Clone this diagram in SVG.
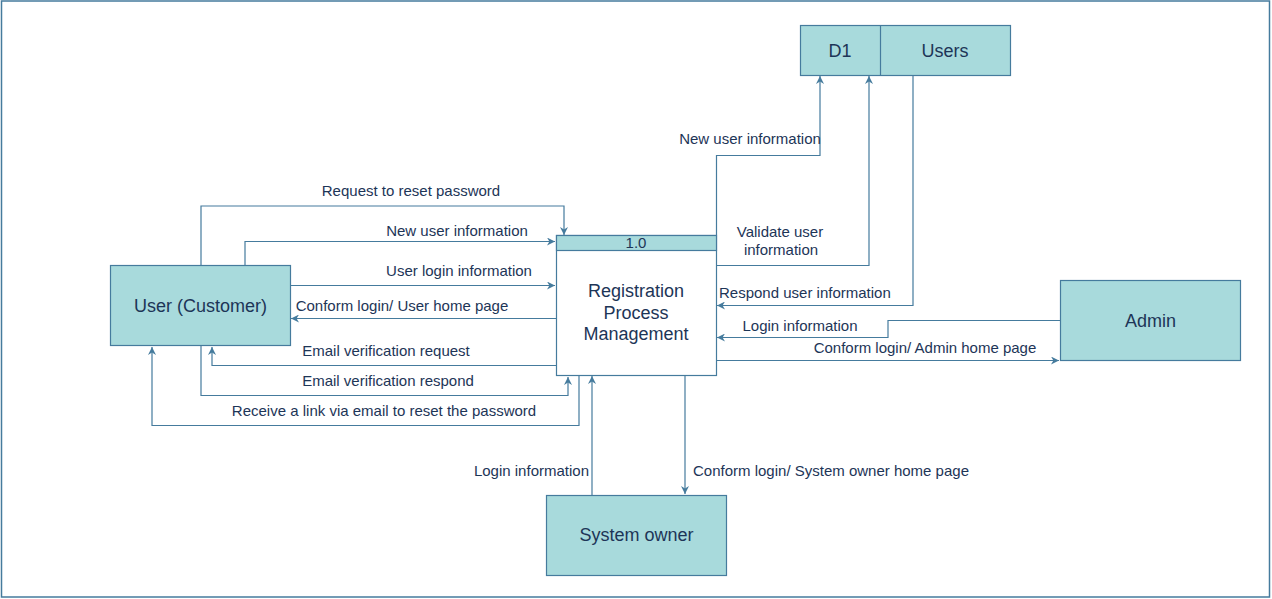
<svg xmlns="http://www.w3.org/2000/svg" width="1272" height="599" viewBox="0 0 1272 599">
<style>
.box{fill:#A8DADC;stroke:#457B9D;stroke-width:1.2}
.proc{fill:#FFFFFF;stroke:#457B9D;stroke-width:1.2}
.node{font-family:"Liberation Sans",Arial,sans-serif;font-size:18px;fill:#1D3557;text-anchor:middle}
.lbl{font-family:"Liberation Sans",Arial,sans-serif;font-size:15px;fill:#1D3557}
.c{text-anchor:middle}
.e{text-anchor:end}
.edge{fill:none;stroke:#457B9D;stroke-width:1.2;marker-end:url(#arr)}
</style>
<defs>
<marker id="arr" viewBox="0 0 10 10" refX="10" refY="5" markerWidth="8" markerHeight="8" markerUnits="userSpaceOnUse" orient="auto">
<path d="M0,0 L10,5 L0,10 L3,5 z" fill="#457B9D"/>
</marker>
</defs>
<rect x="0" y="0" width="1272" height="599" fill="#FFFFFF"/>
<rect x="1.5" y="1" width="1268" height="596" fill="none" stroke="#457B9D" stroke-width="1.5"/>

<g id="connectors">
<polyline class="edge" points="201,265 201,206 564,206 564,235"/>
<polyline class="edge" points="245,265 245,241.5 555,241.5"/>
<polyline class="edge" points="291,285.5 555,285.5"/>
<polyline class="edge" points="556,318.5 291,318.5"/>
<polyline class="edge" points="557,365.5 212,365.5 212,347"/>
<polyline class="edge" points="201,345 201,395.5 568,395.5 568,377"/>
<polyline class="edge" points="579,375 579,425.5 152,425.5 152,347"/>
<polyline class="edge" points="592,495 592,376"/>
<polyline class="edge" points="685,375 685,494"/>
<polyline class="edge" points="716.5,235 716.5,155.5 820,155.5 820,76"/>
<polyline class="edge" points="716.5,265.5 869,265.5 869,76"/>
<polyline class="edge" points="913,75 913,305.5 717,305.5"/>
<polyline class="edge" points="1060,320.5 888,320.5 888,337.5 717,337.5"/>
<polyline class="edge" points="716.5,360.5 1059,360.5"/>

<text class="lbl c" x="411" y="196">Request to reset password</text>
<text class="lbl c" x="457" y="236">New user information</text>
<text class="lbl c" x="459" y="276">User login information</text>
<text class="lbl c" x="402" y="311">Conform login/ User home page</text>
<text class="lbl c" x="386" y="356">Email verification request</text>
<text class="lbl c" x="388" y="386">Email verification respond</text>
<text class="lbl c" x="384" y="416">Receive a link via email to reset the password</text>
<text class="lbl e" x="589" y="476">Login information</text>
<text class="lbl" x="693" y="476">Conform login/ System owner home page</text>
<text class="lbl c" x="750" y="144">New user information</text>
<text class="lbl c" x="780" y="237">Validate user</text>
<text class="lbl c" x="781" y="255">information</text>
<text class="lbl" x="719" y="298">Respond user information</text>
<text class="lbl c" x="800" y="331">Login information</text>
<text class="lbl c" x="925" y="353">Conform login/ Admin home page</text>
</g>

<g id="user">
<rect class="box" x="110.5" y="265.5" width="180" height="80"/>
<text class="node" x="200.5" y="312">User (Customer)</text>
</g>

<g id="process">
<rect class="proc" x="556.5" y="235.5" width="160" height="140"/>
<rect class="box" x="556.5" y="235.5" width="160" height="15"/>
<text class="lbl c" x="636" y="248" style="font-size:15px">1.0</text>
<text class="node" x="636" y="297">Registration</text>
<text class="node" x="636" y="319">Process</text>
<text class="node" x="636" y="340">Management</text>
</g>

<g id="datastore">
<rect class="box" x="800.5" y="25.5" width="210" height="50"/>
<line x1="880.5" y1="25.5" x2="880.5" y2="75.5" stroke="#457B9D" stroke-width="1.2"/>
<text class="node" x="840" y="57">D1</text>
<text class="node" x="945" y="57">Users</text>
</g>

<g id="admin">
<rect class="box" x="1060.5" y="280.5" width="180" height="80"/>
<text class="node" x="1150.5" y="326.5">Admin</text>
</g>

<g id="systemowner">
<rect class="box" x="546.5" y="495.5" width="180" height="80"/>
<text class="node" x="636.5" y="541">System owner</text>
</g>
</svg>
